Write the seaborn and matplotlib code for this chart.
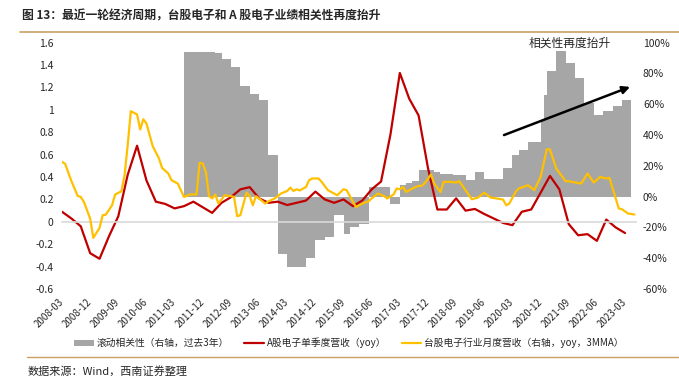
import matplotlib
matplotlib.use("Agg")
import matplotlib.pyplot as plt
import matplotlib.lines as mlines
import seaborn as sns
import pandas as pd

sns.set_style("white")
plt.rcParams["font.family"] = ["Noto Sans CJK SC", "DejaVu Sans"]
plt.rcParams["axes.unicode_minus"] = False

# ---- data (month index: 0 = 2008-03) ----
tick_months = list(range(0, 181, 9))
tick_labels = ["2008-03", "2008-12", "2009-09", "2010-06", "2011-03", "2011-12",
               "2012-09", "2013-06", "2014-03", "2014-12", "2015-09", "2016-06",
               "2017-03", "2017-12", "2018-09", "2019-06", "2020-03", "2020-12",
               "2021-09", "2022-06", "2023-03"]

# A股电子单季度营收 yoy (left axis), quarterly
a_months = list(range(0, 181, 3))
a_yoy = [0.09, 0.03, -0.04, -0.28, -0.33, -0.13, 0.05, 0.42, 0.68, 0.37,
         0.18, 0.16, 0.12, 0.14, 0.18, 0.13, 0.08, 0.17, 0.22, 0.29,
         0.31, 0.21, 0.17, 0.18, 0.15, 0.17, 0.19, 0.27, 0.20, 0.17,
         0.20, 0.14, 0.19, 0.29, 0.36, 0.78, 1.33, 1.10, 0.95, 0.48,
         0.11, 0.11, 0.21, 0.10, 0.115, 0.07, 0.03, -0.01, -0.03, 0.09,
         0.11, 0.26, 0.41, 0.29, -0.02, -0.12, -0.11, -0.17, 0.02, -0.05,
         -0.10]

# 台股电子行业月度营收 yoy 3MMA (right axis, %)
tw_months = [0, 1, 3, 5, 6, 7, 9, 10, 12, 13, 14, 16, 17, 19, 20, 21, 22, 24, 25, 26,
             27, 29, 31, 32, 34, 35, 37, 38, 39, 41, 43, 44, 45, 46, 47, 48, 49, 50, 52, 54,
             55, 56, 57, 59, 60, 61, 62, 63, 65, 66, 68, 70, 72, 73, 74, 75, 76, 78, 79, 80,
             82, 83, 85, 87, 88, 90, 91, 93, 94, 96, 98, 99, 101, 103, 104, 106, 107, 108, 109, 110,
             112, 114, 115, 116, 118, 119, 121, 122, 124, 126, 127, 129, 131, 133, 135, 137, 139, 141, 142, 143,
             145, 146, 149, 151, 153, 155, 156, 158, 161, 162, 164, 166, 168, 170, 172, 174, 175, 178, 179, 181,
             183]
tw_yoy = [22.6, 21.3, 10.2, 0.5, -0.2, -3.4, -14.3, -26.8, -20.3, -12.1, -11.7, -5.6, 1.4, 3.5, 13.9, 33.4, 55.5, 53.4, 43.6, 50.3,
          47.5, 32.8, 24.8, 18.7, 15.0, 10.7, 8.5, 4.2, -0.2, 1.4, 1.4, 22.0, 21.5, 16.0, 0.3, -1.2, 1.4, -4.5, 0.9, 0.3,
          -0.2, -12.7, -12.1, 2.6, 0.5, -5.6, 0.3, -1.2, -4.5, -3.0, -1.2, 2.0, 3.7, 5.9, 3.7, 4.8, 4.0, 6.3, 10.7, 11.8,
          11.8, 9.6, 4.2, 2.0, 0.9, 4.8, 4.2, -3.4, -6.7, -4.5, -3.0, -1.2, 2.0, 0.3, -1.2, 1.4, 5.3, 4.8, 6.3, 3.0,
          5.3, 7.0, 7.0, 8.9, 14.4, 8.5, 3.0, 9.6, 9.6, 9.2, 10.0, 4.2, -1.7, -0.6, 2.6, -0.6, -1.2, -1.9, -5.6, -4.5,
          3.0, 5.3, 7.4, 4.2, 12.8, 30.8, 30.6, 18.3, 10.0, 10.0, 9.2, 8.5, 15.0, 9.2, 12.8, 11.8, 12.2, -7.7, -8.2, -11.0,
          -11.6]

# 滚动相关性 (right axis, %), value holds from each month until the next one
corr_months = [39, 49, 51, 54, 57, 60, 63, 66, 69, 72, 78, 81, 84, 87, 90, 92, 95, 98, 105, 108,
               110, 112, 114, 119, 121, 125, 129, 132, 135, 141, 144, 146, 149, 153, 154, 155, 158, 161, 164, 167,
               170, 173, 176, 179, 182]
corr_vals = [94.0, 93.0, 89.5, 84.5, 72.0, 66.5, 63.0, 27.0, -37.5, -46.0, -40.0, -28.0, -26.5, -12.0, -24.0, -20.0, -17.5, 6.0, -5.0, 7.5,
             9.0, 10.0, 17.0, 16.0, 15.0, 14.2, 10.7, 16.0, 11.3, 18.3, 27.0, 30.6, 35.2, 50.0, 66.0, 81.6, 94.6, 86.6, 76.8, 60.6,
             52.9, 55.5, 59.0, 62.7, 0.0]

RED = "#C00000"
YELLOW = "#FFC000"
GRAY = "#A6A6A6"
TAN = "#C9A063"

fig = plt.figure(figsize=(6.79, 3.84), dpi=100)
ax = fig.add_axes([62 / 679, 1 - 289 / 384, 574 / 679, 246.3 / 384])
axr = ax.twinx()
axy = ax.twinx()
axr.set_zorder(1)
ax.set_zorder(2)
axy.set_zorder(3)
for a in (ax, axr, axy):
    a.patch.set_visible(False)
    for s in a.spines.values():
        s.set_visible(False)

# gray rolling correlation area
poly = axr.fill_between(corr_months, corr_vals, 0, step="post", color=GRAY,
                        linewidth=0, label="滚动相关性（右轴，过去3年）")

sns.lineplot(x=a_months, y=a_yoy, ax=ax, color=RED, linewidth=1.6)
sns.lineplot(x=tw_months, y=tw_yoy, ax=axy, color=YELLOW, linewidth=1.6)

ax.set_xlim(0, 183.5)
ax.set_ylim(-0.6, 1.6)
axr.set_ylim(-60, 100)
axy.set_ylim(-60, 100)

# left axis
lt = [-0.6, -0.4, -0.2, 0, 0.2, 0.4, 0.6, 0.8, 1, 1.2, 1.4, 1.6]
ax.set_yticks(lt)
ax.set_yticklabels([f"{v:g}" for v in lt])
ax.tick_params(axis="y", length=0, pad=6, labelsize=7.5)
ax.set_ylabel("")

# right axis
rt = list(range(-60, 101, 20))
axr.set_yticks(rt)
axr.set_yticklabels([f"{v}%" for v in rt])
axr.tick_params(axis="y", length=0, pad=5, labelsize=7.5)
axy.set_yticks([])

# x axis line at left-axis zero
ax.spines["bottom"].set_visible(True)
ax.spines["bottom"].set_position(("data", 0))
ax.spines["bottom"].set_color("#D9D9D9")
ax.spines["bottom"].set_linewidth(1.2)
ax.set_xticks(tick_months)
ax.set_xticklabels(tick_labels)
ax.tick_params(axis="x", direction="out", length=2.5, color="#D9D9D9", width=1,
               pad=54, labelsize=7)
plt.setp(ax.get_xticklabels(), rotation=45, ha="right", va="center",
         rotation_mode="anchor")
ax.set_xlabel("")
ax.grid(False)
axr.grid(False)
axy.grid(False)

# arrow + note
axy.annotate("", xy=(181.6, 71.3), xytext=(141.3, 40),
             arrowprops=dict(arrowstyle="-|>", color="black", lw=1.8,
                             mutation_scale=11, shrinkA=0, shrinkB=0))
axy.text(162.4, 99.6, "相关性再度抬升", ha="center", va="center", fontsize=8.5)

# legend
handles = [poly,
           mlines.Line2D([], [], color=RED, linewidth=1.6),
           mlines.Line2D([], [], color=YELLOW, linewidth=1.6)]
labels = ["滚动相关性（右轴，过去3年）", "A股电子单季度营收（yoy）",
          "台股电子行业月度营收（右轴，yoy，3MMA）"]
fig.legend(handles, labels, loc="center", bbox_to_anchor=(349 / 679, 1 - 343 / 384),
           ncol=3, frameon=False, fontsize=7, handlelength=2.0, handleheight=0.5,
           handletextpad=0.3, columnspacing=1.6)

# title, rules, source
fig.text(22 / 679, 1 - 16 / 384, "图 13：最近一轮经济周期，台股电子和 A 股电子业绩相关性再度抬升",
         ha="left", va="center", fontsize=8.5, fontweight="bold")
fig.add_artist(mlines.Line2D([20 / 679, 1], [1 - 32 / 384, 1 - 32 / 384],
                             color=TAN, linewidth=1.2))
fig.add_artist(mlines.Line2D([27 / 679, 1], [1 - 357 / 384, 1 - 357 / 384],
                             color=TAN, linewidth=1.0))
fig.text(28 / 679, 1 - 371 / 384, "数据来源：Wind，西南证券整理", ha="left", va="center",
         fontsize=8, style="italic")

fig.savefig("out.png", dpi=100, facecolor="white")
